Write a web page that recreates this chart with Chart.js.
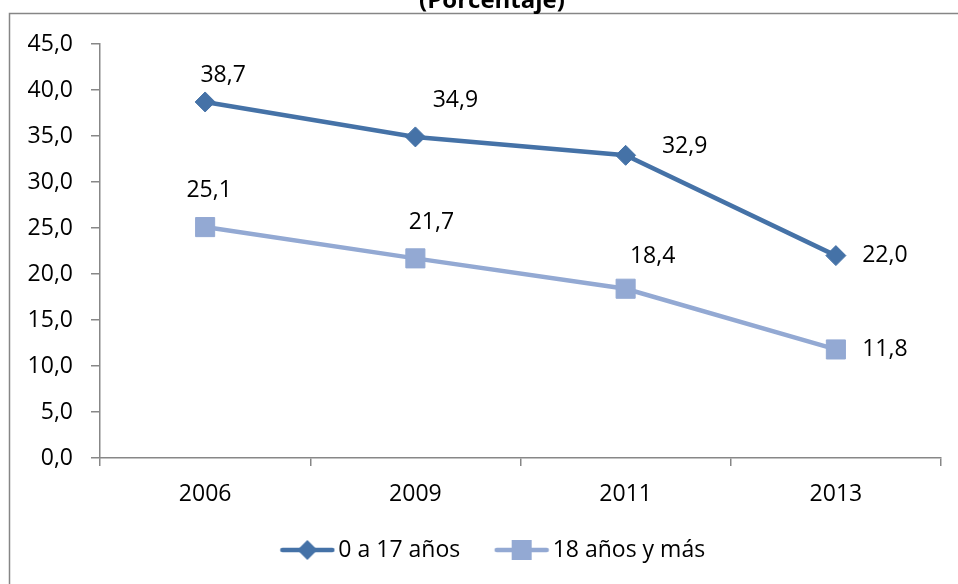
<!DOCTYPE html>
<html>
<head>
<meta charset="utf-8">
<script src="https://cdn.jsdelivr.net/npm/chart.js@4/dist/chart.umd.min.js"></script>
<style>
  html, body { margin: 0; padding: 0; background: #ffffff; }
  #wrap { position: relative; width: 958px; height: 584px; overflow: hidden; }
  canvas { display: block; }
</style>
</head>
<body>
<div id="wrap"><canvas id="c" width="958" height="584"></canvas></div>
<script>
// ---- data ----
const categories = ['2006', '2009', '2011', '2013'];
const seriesNames = ['0 a 17 años', '18 años y más'];
const serie0a17 = [38.7, 34.9, 32.9, 22.0];
const serie18mas = [25.1, 21.7, 18.4, 11.8];
const chartTitle = '(Porcentaje)';
const yMin = 0, yMax = 45, yStep = 5;

// ---- styles (not data) ----
const FONT = '"Open Sans", Lato, "Liberation Sans", sans-serif';
const FSIZE = 23;
const colors = ['#4572A7', '#93A9D3'];
const labelOffsets = [
  [[18, -27], [40, -36], [59, -9], [49, 0]],
  [[4, -37], [16, -36], [27, -32], [49, 0]]
];
const ICON_LEAD = 32; // transparent lead-in of legend icon

const fmt = v => v.toFixed(1).replace('.', ',');

function legendIcon(color, style) {
  const c = document.createElement('canvas');
  c.width = 56 + ICON_LEAD; c.height = 22;
  const g = c.getContext('2d');
  g.translate(ICON_LEAD, 0);
  g.strokeStyle = color; g.lineWidth = 4.5; g.lineCap = 'round';
  g.beginPath(); g.moveTo(3, 11); g.lineTo(53, 11); g.stroke();
  g.fillStyle = color;
  g.beginPath();
  if (style === 'diamond') {
    g.moveTo(28, 1); g.lineTo(38, 11); g.lineTo(28, 21); g.lineTo(18, 11); g.closePath();
  } else {
    g.rect(18, 1, 20, 20);
  }
  g.fill();
  return c;
}
const icons = [legendIcon(colors[0], 'diamond'), legendIcon(colors[1], 'square')];

const framePlugin = {
  id: 'frame',
  afterLayout(chart) {
    if (chart.legend) { chart.legend.left = 20; }
  },
  beforeDraw(chart) {
    const ctx = chart.ctx;
    ctx.save();
    ctx.strokeStyle = '#868686';
    ctx.lineWidth = 1.5;
    ctx.strokeRect(9.5, 13.5, 2000, 2000);
    ctx.restore();
  },
  afterDraw(chart) {
    const ctx = chart.ctx;
    ctx.save();
    ctx.fillStyle = '#000';
    ctx.font = 'bold 24px ' + FONT;
    ctx.textAlign = 'center';
    ctx.textBaseline = 'alphabetic';
    ctx.fillText(chartTitle, 492, 8);
    ctx.restore();
  }
};

const valueLabels = {
  id: 'valueLabels',
  afterDatasetsDraw(chart) {
    const ctx = chart.ctx;
    ctx.save();
    ctx.font = FSIZE + 'px ' + FONT;
    ctx.fillStyle = '#000';
    ctx.textAlign = 'center';
    ctx.textBaseline = 'middle';
    chart.data.datasets.forEach((ds, di) => {
      const meta = chart.getDatasetMeta(di);
      meta.data.forEach((pt, i) => {
        const off = labelOffsets[di][i];
        ctx.fillText(fmt(ds.data[i]), pt.x + off[0], pt.y + off[1]);
      });
    });
    ctx.restore();
  }
};

new Chart(document.getElementById('c'), {
  type: 'line',
  data: {
    labels: categories,
    datasets: [
      {
        label: seriesNames[0], data: serie0a17,
        borderColor: colors[0], backgroundColor: colors[0],
        borderWidth: 4.5, pointStyle: 'rectRot', pointRadius: 10,
        pointBorderWidth: 1, pointBackgroundColor: colors[0], pointBorderColor: colors[0],
        tension: 0
      },
      {
        label: seriesNames[1], data: serie18mas,
        borderColor: colors[1], backgroundColor: colors[1],
        borderWidth: 4.5, pointStyle: 'rect', pointRadius: 13.5,
        pointBorderWidth: 1, pointBackgroundColor: colors[1], pointBorderColor: colors[1],
        tension: 0
      }
    ]
  },
  options: {
    responsive: false,
    animation: false,
    layout: { padding: { left: 5, right: 17, top: 44, bottom: 12.5 } },
    scales: {
      x: {
        offset: true,
        grid: { offset: true, drawOnChartArea: false, tickLength: 8, color: '#878787', lineWidth: 1.5 },
        border: { color: '#878787', width: 1.5 },
        ticks: { font: { family: FONT, size: FSIZE }, color: '#000', padding: 15 },
        afterFit(s) { s.height = 70.5; }
      },
      y: {
        min: yMin, max: yMax,
        grid: { drawOnChartArea: false, tickLength: 9, color: '#878787', lineWidth: 1.5 },
        border: { color: '#878787', width: 1.5 },
        ticks: { stepSize: yStep, font: { family: FONT, size: FSIZE }, color: '#000', padding: 18,
                 callback: v => fmt(v) },
        afterFit(s) { s.width = 95; }
      }
    },
    plugins: {
      title: { display: false },
      tooltip: { enabled: false },
      legend: {
        position: 'bottom',
        labels: {
          usePointStyle: true,
          pointStyleWidth: 71,
          padding: 10,
          color: '#000',
          font: { family: FONT, size: FSIZE },
          generateLabels(chart) {
            return chart.data.datasets.map((ds, i) => ({
              text: ds.label, pointStyle: icons[i], fillStyle: colors[i],
              strokeStyle: colors[i], lineWidth: 0, hidden: false, datasetIndex: i, fontColor: '#000'
            }));
          }
        }
      }
    }
  },
  plugins: [framePlugin, valueLabels]
});
</script>
</body>
</html>
